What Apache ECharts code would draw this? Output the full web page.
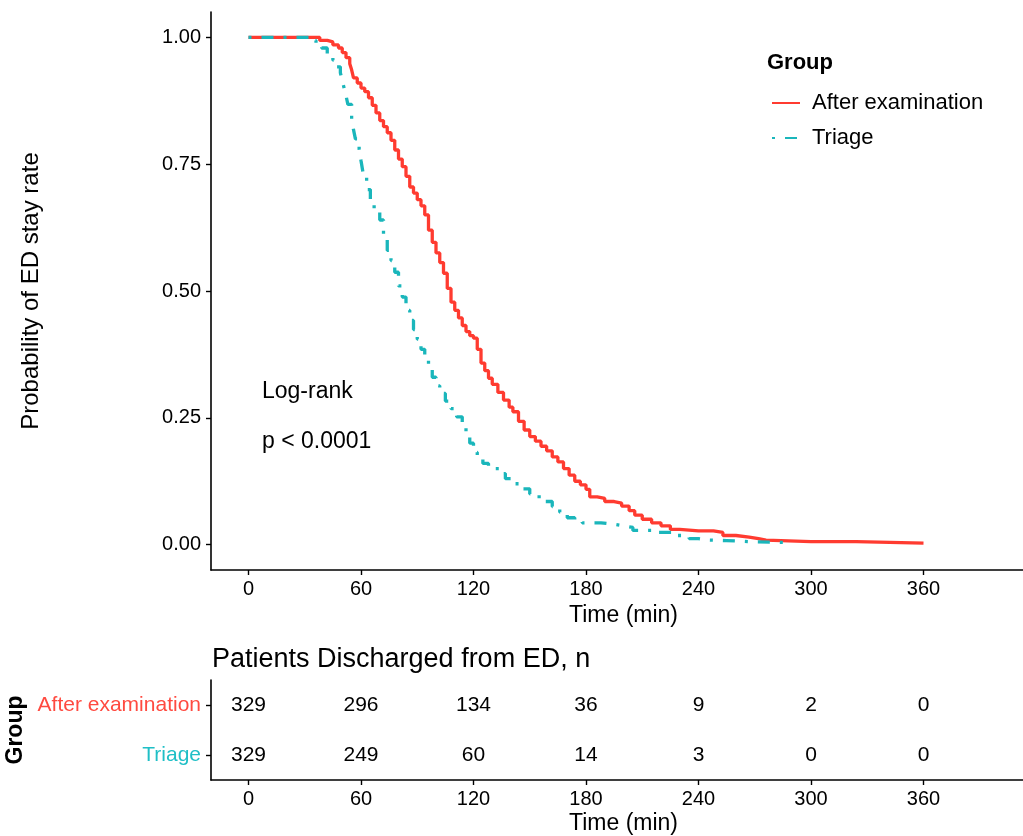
<!DOCTYPE html>
<html>
<head>
<meta charset="utf-8">
<script src="https://cdn.jsdelivr.net/npm/echarts@6/dist/echarts.min.js"></script>
<style>
  html, body { margin: 0; padding: 0; background: #fff; }
  #main { width: 1023px; height: 836px; }
</style>
</head>
<body>
<div id="main"></div>
<script>
// KM 曲线数据
var afterTime = [0, 35, 38, 42, 45, 48, 50, 52, 54, 55, 56, 58, 60, 62, 64, 66, 68, 70, 72, 74, 76, 78, 80, 82, 84, 86, 88, 90,
    92, 94, 96, 98, 100, 102, 104, 106, 108, 110, 112, 114, 116, 118, 120, 122, 124, 126, 128, 130, 133, 136, 139, 141,
    144, 147, 150, 153, 156, 159, 162, 165, 168, 171, 174, 177, 180, 182, 186, 190, 195, 199, 203, 206, 210, 215, 220,
    225, 230, 240, 248, 253, 260, 267, 272, 276, 300, 324, 360];
var afterSurv = [1, 1, 0.994, 0.991, 0.985, 0.979, 0.970, 0.960, 0.948, 0.936, 0.920, 0.910, 0.900, 0.893, 0.881, 0.866,
    0.851, 0.836, 0.824, 0.812, 0.797, 0.778, 0.760, 0.745, 0.726, 0.705, 0.693, 0.680, 0.668, 0.650, 0.620, 0.596,
    0.575, 0.556, 0.535, 0.505, 0.478, 0.462, 0.447, 0.432, 0.420, 0.412, 0.407, 0.385, 0.358, 0.343, 0.328, 0.316,
    0.300, 0.285, 0.271, 0.262, 0.243, 0.226, 0.213, 0.204, 0.194, 0.185, 0.173, 0.163, 0.150, 0.137, 0.125, 0.118,
    0.109, 0.094, 0.091, 0.085, 0.082, 0.076, 0.067, 0.058, 0.050, 0.043, 0.037, 0.030, 0.027, 0.027, 0.024, 0.018,
    0.015, 0.012, 0.009, 0.006, 0.006, 0.003, 0.003];

var triageTime = [0, 31, 34, 36, 39, 42, 45, 47, 49, 50, 51, 52, 53, 55, 56, 57, 59, 60, 61, 63, 65, 67, 70, 72, 74, 76,
    78, 80, 82, 84, 86, 88, 90, 92, 94, 96, 98, 100, 102, 105, 108, 111, 114, 116, 118, 120, 122, 125, 128, 131, 134,
    137, 141, 145, 150, 155, 158, 162, 166, 170, 174, 178, 180, 188, 195, 200, 205, 215, 226, 235, 240, 245, 255, 267, 290];
var triageSurv = [1, 1, 0.994, 0.988, 0.979, 0.967, 0.955, 0.942, 0.930, 0.915, 0.900, 0.885, 0.868, 0.838, 0.818, 0.800,
    0.780, 0.757, 0.735, 0.700, 0.680, 0.663, 0.640, 0.610, 0.580, 0.560, 0.537, 0.510, 0.488, 0.462, 0.442, 0.424,
    0.405, 0.385, 0.366, 0.348, 0.330, 0.313, 0.298, 0.283, 0.268, 0.252, 0.235, 0.217, 0.200, 0.182, 0.170, 0.160,
    0.155, 0.150, 0.140, 0.130, 0.120, 0.110, 0.100, 0.090, 0.085, 0.075, 0.064, 0.053, 0.047, 0.043, 0.043, 0.040,
    0.037, 0.034, 0.028, 0.024, 0.018, 0.012, 0.009, 0.008, 0.006, 0.004, 0.003];

// 风险表
var groups = ['After examination', 'Triage'];
var tableTimes = [0, 60, 120, 180, 240, 300, 360];
var afterCounts = [329, 296, 134, 36, 9, 2, 0];
var triageCounts = [329, 249, 60, 14, 3, 0, 0];

var xTicks = [0, 60, 120, 180, 240, 300, 360];
var yTicks = [0, 0.25, 0.5, 0.75, 1];

var RED = '#FF3B30';
var CYAN = '#1AB6BB';
var FONT = "'Liberation Sans', Arial, sans-serif";

function zipData(xs, ys) {
    var out = [];
    for (var i = 0; i < xs.length; i++) out.push([xs[i], ys[i]]);
    return out;
}

var tableData = [];
tableTimes.forEach(function (t, i) {
    tableData.push([t, groups[0], afterCounts[i]]);
    tableData.push([t, groups[1], triageCounts[i]]);
});

function axisLine() { return { show: true, onZero: false, lineStyle: { color: '#000', width: 1.6 } }; }
function axisTick(extra) {
    var t = { show: true, length: 5, lineStyle: { color: '#000', width: 1.4 } };
    for (var k in extra) t[k] = extra[k];
    return t;
}

var chart = echarts.init(document.getElementById('main'));

chart.setOption({
    animation: false,
    title: {
        text: 'Patients Discharged from ED, n',
        left: 207,
        top: 641,
        textStyle: { fontFamily: FONT, fontSize: 27, fontWeight: 'normal', color: '#000' }
    },
    legend: {
        orient: 'vertical',
        left: 766,
        top: 87,
        itemWidth: 28,
        itemHeight: 20,
        itemGap: 13,
        itemStyle: { opacity: 0 },
        data: ['After examination', 'Triage'],
        textStyle: { fontFamily: FONT, fontSize: 22, color: '#000', padding: [0, 0, 0, 7] }
    },
    graphic: [
        { type: 'text', left: 767, top: 52, style: { text: 'Group', font: 'bold 22px ' + FONT, fill: '#000' } },
        { type: 'text', left: 262, top: 380, style: { text: 'Log-rank', font: '23px ' + FONT, fill: '#000' } },
        { type: 'text', left: 262, top: 430, style: { text: 'p < 0.0001', font: '23px ' + FONT, fill: '#000' } }
    ],
    grid: [
        { left: 211, right: -13, top: 12, height: 558, outerBoundsMode: 'none', containLabel: false },
        { left: 211, right: -13, top: 680, height: 100, outerBoundsMode: 'none', containLabel: false }
    ],
    xAxis: [
        {
            type: 'value', gridIndex: 0, min: -20, max: 420,
            name: 'Time (min)', nameLocation: 'middle', nameGap: 30,
            nameTextStyle: { fontFamily: FONT, fontSize: 23, color: '#000' },
            axisLine: axisLine(), splitLine: { show: false },
            axisTick: axisTick({ customValues: xTicks }),
            axisLabel: { customValues: xTicks, margin: 9, fontFamily: FONT, fontSize: 20, color: '#000' }
        },
        {
            type: 'value', gridIndex: 1, min: -20, max: 420,
            name: 'Time (min)', nameLocation: 'middle', nameGap: 32,
            nameTextStyle: { fontFamily: FONT, fontSize: 23, color: '#000' },
            axisLine: axisLine(), splitLine: { show: false },
            axisTick: axisTick({ customValues: xTicks }),
            axisLabel: { customValues: xTicks, margin: 9, fontFamily: FONT, fontSize: 20, color: '#000' }
        }
    ],
    yAxis: [
        {
            type: 'value', gridIndex: 0, min: -0.05, max: 1.05,
            name: 'Probability of ED stay rate', nameLocation: 'middle', nameGap: 168,
            nameTextStyle: { fontFamily: FONT, fontSize: 24, color: '#000' },
            axisLine: axisLine(), splitLine: { show: false },
            axisTick: axisTick({ customValues: yTicks }),
            axisLabel: {
                customValues: yTicks, margin: 10, fontFamily: FONT, fontSize: 20, color: '#000',
                formatter: function (v) { return v.toFixed(2); }
            }
        },
        {
            type: 'category', gridIndex: 1, inverse: true, data: groups,
            name: 'Group', nameLocation: 'middle', nameGap: 166,
            nameTextStyle: { fontFamily: FONT, fontSize: 23, fontWeight: 'bold', color: '#000' },
            axisLine: axisLine(), splitLine: { show: false },
            axisTick: axisTick({ alignWithLabel: true }),
            axisLabel: {
                margin: 10, fontFamily: FONT, fontSize: 21,
                color: function (v) { return v === groups[0] ? '#FF4A40' : '#1FBFC6'; }
            }
        }
    ],
    series: [
        {
            name: 'After examination', type: 'line', step: 'end', symbol: 'none',
            xAxisIndex: 0, yAxisIndex: 0,
            data: zipData(afterTime, afterSurv),
            lineStyle: { color: RED, width: 3.3 },
            itemStyle: { color: RED }
        },
        {
            name: 'Triage', type: 'line', step: 'end', symbol: 'none',
            xAxisIndex: 0, yAxisIndex: 0,
            data: zipData(triageTime, triageSurv),
            lineStyle: { color: CYAN, width: 3.3, type: [3, 10, 12, 10] },
            itemStyle: { color: CYAN }
        },
        {
            name: 'risk', type: 'scatter', xAxisIndex: 1, yAxisIndex: 1,
            symbolSize: 0, itemStyle: { color: '#000', opacity: 1 },
            data: tableData,
            label: {
                show: true, position: [0, 0], align: 'center', verticalAlign: 'middle',
                fontFamily: FONT, fontSize: 21, color: '#000',
                formatter: function (p) { return p.value[2]; }
            }
        }
    ]
});
</script>
</body>
</html>
